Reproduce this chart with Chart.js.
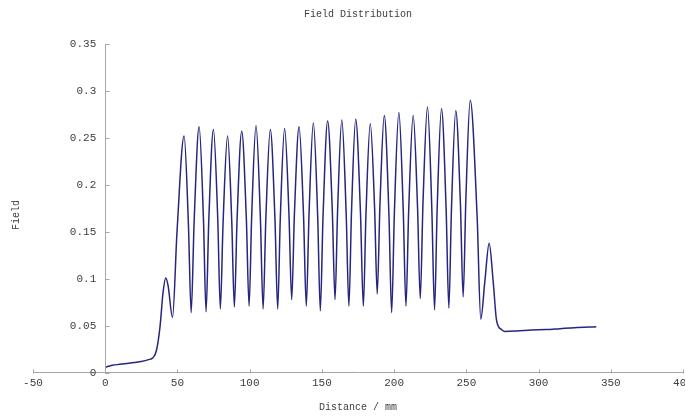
<!DOCTYPE html>
<html>
<head>
<meta charset="utf-8">
<script src="https://cdn.jsdelivr.net/npm/chart.js@4"></script>
<style>
  html, body { margin: 0; padding: 0; background: #fff; }
  #wrap { width: 685px; height: 416px; position: relative; }
</style>
</head>
<body>
<div id="wrap"><canvas id="chart-field"></canvas></div>
<script>
// distance (mm) and field values
const distance = [
  0, 5, 10, 15, 20, 25, 30, 33, 35.5, 38, 40, 41.9, 43.5, 46.6, 49.7,
  54.6, 57.6, 59.5, 61.6, 65, 68.0, 69.8, 71.7, 74.9, 77.9, 79.7, 81.6,
  84.7, 87.6, 89.4, 91.3, 94.5, 97.7, 99.6, 101.4, 104.4, 107.4, 109.3, 111.2,
  114.3, 117.5, 119.4, 121.2, 124.2, 127.2, 129.1, 131.0, 134.2, 137.3, 139.2, 141.1,
  144.1, 147.1, 148.9, 150.8, 154, 157.2, 159.1, 160.9, 163.8, 166.8, 168.7, 170.5,
  173.4, 176.7, 178.7, 180.5, 183.5, 186.5, 188.3, 190.2, 193.2, 196.4, 198.3, 200.2,
  203.3, 206.3, 208.2, 210.1, 213.2, 216.2, 218.1, 220.0, 223.1, 226.1, 228, 229.8,
  232.8, 236.0, 237.9, 239.7, 242.7, 245.9, 247.8, 249.7, 252.7, 257.5,
  260, 262.8, 265.8, 268.6, 270.9, 274.3, 276.6, 285, 295, 305, 315, 325, 340,
];
const field = [
  0.006, 0.008, 0.009, 0.010, 0.011, 0.012, 0.014, 0.016, 0.024, 0.05, 0.085, 0.101, 0.093, 0.059, 0.150,
  0.252, 0.158, 0.064, 0.163, 0.262, 0.164, 0.065, 0.162, 0.259, 0.164, 0.068, 0.160,
  0.252, 0.161, 0.070, 0.164, 0.257, 0.164, 0.071, 0.167, 0.263, 0.166, 0.068, 0.164,
  0.259, 0.164, 0.068, 0.164, 0.260, 0.169, 0.078, 0.170, 0.262, 0.167, 0.071, 0.169,
  0.266, 0.166, 0.066, 0.167, 0.268, 0.173, 0.078, 0.174, 0.269, 0.170, 0.071, 0.171,
  0.270, 0.171, 0.071, 0.168, 0.265, 0.175, 0.084, 0.179, 0.274, 0.169, 0.064, 0.171,
  0.277, 0.174, 0.071, 0.173, 0.274, 0.177, 0.079, 0.181, 0.283, 0.175, 0.067, 0.174,
  0.281, 0.175, 0.069, 0.174, 0.279, 0.180, 0.081, 0.186, 0.290, 0.165,
  0.057, 0.097, 0.138, 0.097, 0.056, 0.046, 0.044, 0.0445, 0.0455, 0.046, 0.047, 0.048, 0.049,
];

const xRange = { min: -50, max: 400, step: 50 };
const yRange = { min: 0, max: 0.35, step: 0.05 };

const axisColor = "#a6a6a6";
const textColor = "#404040";
const monoFont = "'Liberation Mono', 'DejaVu Sans Mono', monospace";

Chart.defaults.font.family = monoFont;
Chart.defaults.color = textColor;

// y axis line at x = 0, inward tick marks, y title at the far left
const innerTicks = {
  id: "innerTicks",
  afterDatasetsDraw(chart) {
    const { ctx, scales } = chart;
    const x = scales.x;
    const y = scales.y;
    const x0 = Math.round(x.getPixelForValue(0)) + 0.5;
    const y0 = Math.round(y.getPixelForValue(0)) + 0.5;
    ctx.save();
    ctx.strokeStyle = axisColor;
    ctx.lineWidth = 1;
    ctx.beginPath();
    ctx.moveTo(x0, y0);
    ctx.lineTo(x0, Math.round(y.getPixelForValue(yRange.max)));
    x.ticks.forEach((t) => {
      const px = Math.round(x.getPixelForValue(t.value)) + 0.5;
      ctx.moveTo(px, y0);
      ctx.lineTo(px, y0 - 4);
    });
    y.ticks.forEach((t) => {
      const py = Math.round(y.getPixelForValue(t.value)) + 0.5;
      ctx.moveTo(x0, py);
      ctx.lineTo(x0 + 4, py);
    });
    ctx.stroke();

    ctx.fillStyle = textColor;
    ctx.font = "10px " + monoFont;
    ctx.textAlign = "center";
    ctx.textBaseline = "middle";
    ctx.translate(16, 215);
    ctx.rotate(-Math.PI / 2);
    ctx.fillText("Field", 0, 0);
    ctx.restore();
  },
};

new Chart(document.getElementById("chart-field"), {
  type: "line",
  data: {
    datasets: [
      {
        label: "Field",
        data: distance.map((d, i) => ({ x: d, y: field[i] })),
        borderColor: "#26267f",
        borderWidth: 1.5,
        pointRadius: 0,
        cubicInterpolationMode: "monotone",
        fill: false,
      },
    ],
  },
  options: {
    responsive: true,
    maintainAspectRatio: false,
    animation: false,
    layout: {
      autoPadding: false,
      padding: { left: 33, right: 2, top: 2, bottom: 0 },
    },
    plugins: {
      legend: { display: false },
      tooltip: { enabled: false },
      title: {
        display: true,
        text: "Field Distribution",
        color: textColor,
        font: { size: 10, weight: "normal" },
        padding: { top: 6, bottom: 24 },
      },
    },
    scales: {
      x: {
        type: "linear",
        min: xRange.min,
        max: xRange.max,
        afterFit(scale) {
          scale.paddingLeft = 0;
          scale.paddingRight = 0;
        },
        grid: { display: false, drawTicks: false },
        border: { display: true, color: axisColor, width: 1 },
        ticks: { stepSize: xRange.step, padding: 4, font: { size: 11 }, color: textColor },
        title: {
          display: true,
          text: "Distance / mm",
          color: textColor,
          font: { size: 10 },
          padding: { top: 7, bottom: 3 },
        },
      },
      y: {
        // labels sit just left of the x = 0 axis line
        position: { x: -6.2 },
        min: yRange.min,
        max: yRange.max,
        grid: { display: false, drawTicks: false },
        border: { display: false },
        ticks: {
          stepSize: yRange.step,
          font: { size: 11 },
          color: textColor,
          callback: (v) => String(Number(v.toFixed(2))),
        },
      },
    },
  },
  plugins: [innerTicks],
});
</script>
</body>
</html>
